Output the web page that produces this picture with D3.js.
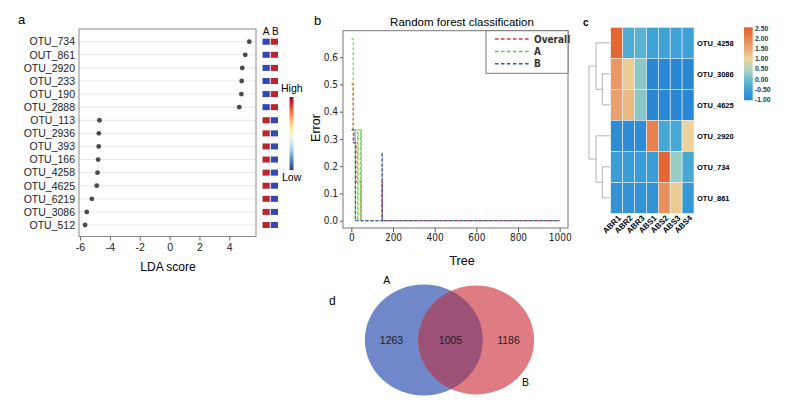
<!DOCTYPE html>
<html>
<head>
<meta charset="utf-8">
<script src="https://cdn.jsdelivr.net/npm/d3@7"></script>
<style>
body { margin: 0; background: #fff; }
text { font-family: "Liberation Sans", Arial, sans-serif; }
.cond { font-family: "DejaVu Sans Condensed", "Liberation Sans Narrow", sans-serif; }
</style>
</head>
<body>
<div id="container"></div>
<script>
const width = 810;
const height = 403;

//------------------DATA------------------//
// panel a : LDA
const otuLabels = ["OTU_734", "OUT_861", "OTU_2920", "OTU_233", "OTU_190", "OTU_2888", "OTU_113",
  "OTU_2936", "OTU_393", "OTU_166", "OTU_4258", "OTU_4625", "OTU_6219", "OTU_3086", "OTU_512"];
const ldaScores = [5.34, 5.07, 4.87, 4.83, 4.81, 4.67, -4.70, -4.74, -4.75, -4.79, -4.83, -4.88, -5.21, -5.55, -5.66];
const highGroup = ["B", "B", "B", "B", "B", "B", "A", "A", "A", "A", "A", "A", "A", "A", "A"];
const ldaTicks = [-6, -4, -2, 0, 2, 4];
const groups = ["A", "B"];

// panel b : random forest OOB error (change points, tree -> error)
const rfSeries = ["Overall", "A", "B"];
const rfOverall = [[1, 0.5], [9, 0.286], [16, 0.286], [22, 0.143], [47, 0], [147, 0.143], [149, 0], [1000, 0]];
const rfA = [[1, 0.667], [9, 0.333], [18, 0], [20, 0.333], [30, 0], [33, 0.333], [44, 0], [46, 0.333], [48, 0], [1000, 0]];
const rfB = [[1, 0.333], [7, 0.333], [12, 0.286], [20, 0], [147, 0.25], [149, 0], [1000, 0]];
const treeTicks = [0, 200, 400, 600, 800, 1000];
const errorTicks = [0, 0.1, 0.2, 0.3, 0.4, 0.5, 0.6];

// panel c : heatmap
const heatCols = ["ABR1", "ABR2", "ABR3", "ABS1", "ABS2", "ABS3", "ABS4"];
const heatRows = ["OTU_4258", "OTU_3086", "OTU_4625", "OTU_2920", "OTU_734", "OTU_861"];
const heatValues = [
  [2.4, -0.3, -0.2, -0.5, -0.5, -0.5, -0.5],
  [1.7, 1.1, 0.2, -1.0, -1.0, -1.0, -1.0],
  [1.6, 1.3, 0.2, -1.0, -1.0, -1.0, -1.0],
  [-0.9, -0.9, -0.9, 2.0, -0.4, -0.4, 1.0],
  [-0.6, -0.6, -0.6, -0.6, 2.4, 0.3, -0.4],
  [-0.8, -0.8, -0.8, -0.8, 1.8, 1.1, -0.7]
];
const heatTicks = [2.5, 2.0, 1.5, 1.0, 0.5, 0.0, -0.5, -1.0];
const dendro = {h: 3, children: [
  {h: 2, children: [{name: "OTU_4258"}, {h: 1.1, children: [{name: "OTU_3086"}, {name: "OTU_4625"}]}]},
  {h: 2, children: [{name: "OTU_2920"}, {h: 1.1, children: [{name: "OTU_734"}, {name: "OTU_861"}]}]}
]};

// panel d : venn
const vennNames = ["A", "B"];
const vennOnlyA = 1263;
const vennBoth = 1005;
const vennOnlyB = 1186;

//------------------SVG------------------//
const svg = d3.select("#container").append("svg")
  .attr("width", width).attr("height", height);
const hyphen = d => String(d);

function panelLetter(x, y, t, size, weight) {
  svg.append("text").attr("x", x).attr("y", y).text(t)
    .style("font-size", size).style("font-weight", weight || "normal");
}

//------------------PANEL A------------------//
panelLetter(18, 24, "a", 13);
const xA = d3.scaleLinear().domain([-6.07, 5.79]).range([79, 256]);
const yA = d3.scalePoint().domain(otuLabels).range([41.7, 225]);

const gA = svg.append("g");
gA.selectAll(".grid").data(otuLabels).enter().append("line")
  .attr("x1", 79).attr("x2", 256)
  .attr("y1", d => yA(d)).attr("y2", d => yA(d))
  .style("stroke", "#e2e2e2").style("stroke-width", 0.8);
gA.append("rect").attr("x", 79).attr("y", 29).attr("width", 177).attr("height", 207.5)
  .style("fill", "none").style("stroke", "#8a8a8a").style("stroke-width", 1);
gA.selectAll(".dot").data(otuLabels).enter().append("circle")
  .attr("cx", (d, i) => xA(ldaScores[i])).attr("cy", d => yA(d)).attr("r", 2.4)
  .style("fill", "#4a4a4a");
gA.selectAll(".lab").data(otuLabels).enter().append("text")
  .attr("x", 75).attr("y", d => yA(d)).attr("dy", "0.36em")
  .attr("text-anchor", "end").style("font-size", "10.5px").style("fill", "#222").text(d => d);

const axA = gA.append("g").attr("transform", "translate(0,236.5)")
  .call(d3.axisBottom(xA).tickValues(ldaTicks).tickFormat(hyphen).tickSize(4).tickPadding(3));
axA.select(".domain").remove();
axA.selectAll("line").style("stroke", "#666");
axA.selectAll("text").style("font-size", "10.5px").style("fill", "#222");
gA.append("text").attr("x", 168).attr("y", 271).attr("text-anchor", "middle")
  .style("font-size", "12px").text("LDA score");

// group squares
const xSq = d3.scaleBand().domain(groups).range([262.5, 278]).paddingInner(0.12);
groups.forEach(function(g) {
  gA.append("text").attr("x", xSq(g) + xSq.bandwidth() / 2 + (g === "B" ? 1 : 0)).attr("y", 35)
    .attr("text-anchor", "middle").style("font-size", "10px").text(g);
  gA.selectAll(".sq" + g).data(otuLabels).enter().append("rect")
    .attr("x", xSq(g)).attr("y", d => yA(d) - 3).attr("width", xSq.bandwidth()).attr("height", 6)
    .style("fill", (d, i) => highGroup[i] === g ? "#b8262e" : "#3348b0");
});

// High / Low bar
const defs = svg.append("defs");
const gradA = defs.append("linearGradient").attr("id", "gradA")
  .attr("x1", 0).attr("x2", 0).attr("y1", 0).attr("y2", 1);
d3.range(0, 1.01, 0.1).forEach(t => gradA.append("stop")
  .attr("offset", t).attr("stop-color", d3.interpolateRdYlBu(t)));
gA.append("rect").attr("x", 289.5).attr("y", 97).attr("width", 4).attr("height", 73)
  .style("fill", "url(#gradA)");
gA.append("text").attr("x", 281).attr("y", 92).style("font-size", "10.5px").text("High");
gA.append("text").attr("x", 282).attr("y", 181).style("font-size", "10.5px").text("Low");

//------------------PANEL B------------------//
panelLetter(314, 25, "b", 13);
const xB = d3.scaleLinear().domain([-40, 1040]).range([343, 568]);
const yB = d3.scaleLinear().domain([-0.0268, 0.6968]).range([228, 30.7]);
const colorB = d3.scaleOrdinal().domain(rfSeries).range(["#e8322c", "#6cc24a", "#3a4db8"]);
const gB = svg.append("g");

svg.append("text").attr("x", 462).attr("y", 26).attr("text-anchor", "middle")
  .style("font-size", "11.5px").text("Random forest classification");

const axBx = gB.append("g").attr("transform", "translate(0,228)")
  .call(d3.axisBottom(xB).tickValues(treeTicks).tickFormat(d3.format("d")).tickSize(4).tickPadding(2));
const axBy = gB.append("g").attr("transform", "translate(343,0)")
  .call(d3.axisLeft(yB).tickValues(errorTicks).tickFormat(d3.format(".1f")).tickSize(3).tickPadding(2));
[axBx, axBy].forEach(function(a) {
  a.select(".domain").remove();
  a.selectAll("line").style("stroke", "#555");
  a.selectAll("text").attr("class", "cond").style("font-size", "10px").style("fill", "#222");
});
gB.append("text").attr("x", 462).attr("y", 265).attr("text-anchor", "middle")
  .style("font-size", "12.5px").text("Tree");
gB.append("text").attr("transform", "translate(320,128) rotate(-90)").attr("text-anchor", "middle")
  .style("font-size", "12.5px").text("Error");

const lineB = d3.line().curve(d3.curveStepAfter)
  .x(d => xB(d[0])).y(d => yB(d[1]));
const rfData = [rfOverall, rfA, rfB];
gB.selectAll(".rf").data(rfData).enter().append("path")
  .attr("d", d => lineB(d))
  .style("fill", "none")
  .style("stroke", (d, i) => colorB(rfSeries[i]))
  .style("stroke-width", 1.2)
  .style("stroke-dasharray", "3,2")
  .style("opacity", 0.85);

gB.append("rect").attr("x", 343).attr("y", 30.7).attr("width", 225).attr("height", 197.3)
  .style("fill", "none").style("stroke", "#777").style("stroke-width", 1);

// legend
gB.append("rect").attr("x", 486).attr("y", 30.7).attr("width", 82).attr("height", 42.6)
  .style("fill", "#fff").style("stroke", "#777").style("stroke-width", 1);
rfSeries.forEach(function(s, i) {
  const y = 39 + i * 12.4;
  gB.append("line").attr("x1", 495).attr("x2", 530).attr("y1", y).attr("y2", y)
    .style("stroke", colorB(s)).style("stroke-width", 1.5).style("stroke-dasharray", "3.5,2.5");
  gB.append("text").attr("x", 534).attr("y", y).attr("dy", "0.36em").attr("class", "cond")
    .style("font-size", "10px").style("font-weight", "bold").style("fill", "#333").text(s);
});

//------------------PANEL C------------------//
panelLetter(583, 26, "c", 10, "bold");
const xC = d3.scaleBand().domain(heatCols).range([610.7, 694]);
const yC = d3.scaleBand().domain(heatRows).range([27.3, 213.3]);
const heatDomain = [-1, -0.5, 0, 0.5, 1, 1.5, 2, 2.5];
const colorC = d3.scaleLinear().domain(heatDomain)
  .range(["#2a87d3", "#3ea2d6", "#6cbecd", "#b4d6bb", "#ecd39c", "#eaa774", "#e78250", "#e3602c"]);
const gC = svg.append("g");
heatRows.forEach(function(r, i) {
  gC.selectAll(".c" + i).data(heatCols).enter().append("rect")
    .attr("x", d => xC(d)).attr("y", yC(r))
    .attr("width", xC.bandwidth()).attr("height", yC.bandwidth())
    .style("fill", (d, j) => colorC(heatValues[i][j]))
    .style("stroke", "#f4f4f4").style("stroke-width", 0.6);
});
gC.selectAll(".rl").data(heatRows).enter().append("text")
  .attr("x", 697).attr("y", d => yC(d) + yC.bandwidth() / 2).attr("dy", "0.36em")
  .style("font-size", "7.5px").style("font-weight", "bold").text(d => d);
gC.selectAll(".cl").data(heatCols).enter().append("text")
  .attr("transform", d => "translate(" + (xC(d) + xC.bandwidth() / 2 + 3) + ",217) rotate(-45)")
  .attr("text-anchor", "end").attr("dy", "0.3em")
  .style("font-size", "8px").style("font-weight", "bold").text(d => d);

// dendrogram
const root = d3.hierarchy(dendro);
const hx = d3.scaleLinear().domain([0, 3]).range([610, 589]);
root.eachAfter(function(n) {
  if (!n.children) { n.py = yC(n.data.name) + yC.bandwidth() / 2; n.px = hx(0); }
  else { n.py = d3.mean(n.children, c => c.py); n.px = hx(n.data.h); }
});
root.each(function(n) {
  if (!n.children) return;
  gC.append("line").attr("x1", n.px).attr("x2", n.px)
    .attr("y1", n.children[0].py).attr("y2", n.children[n.children.length - 1].py)
    .style("stroke", "#aaa").style("stroke-width", 0.9);
  n.children.forEach(c => gC.append("line").attr("x1", n.px).attr("x2", c.px)
    .attr("y1", c.py).attr("y2", c.py).style("stroke", "#aaa").style("stroke-width", 0.9));
});

// colour key
const gradC = defs.append("linearGradient").attr("id", "gradC")
  .attr("x1", 0).attr("x2", 0).attr("y1", 1).attr("y2", 0);
heatDomain.forEach((v, i) => gradC.append("stop")
  .attr("offset", i / (heatDomain.length - 1)).attr("stop-color", colorC(v)));
const keyY = d3.scaleLinear().domain([-1, 2.5]).range([99.3, 28.7]);
gC.append("rect").attr("x", 744).attr("y", 27.3).attr("width", 8.7).attr("height", 73)
  .style("fill", "url(#gradC)");
gC.selectAll(".kt").data(heatTicks).enter().append("text")
  .attr("x", 755).attr("y", d => keyY(d)).attr("dy", "0.35em")
  .style("font-size", "6.8px").style("font-weight", "bold").style("fill", "#333")
  .text(d => d3.format(".2f")(d).replace("−", "-"));

//------------------PANEL D------------------//
panelLetter(329, 305, "d", 12);
const sizeA = vennOnlyA + vennBoth;
const sizeB = vennOnlyB + vennBoth;
const rScale = d3.scaleSqrt().domain([0, sizeA]).range([0, 59]);
const rA = rScale(sizeA), rB = rScale(sizeB);
function lens(r1, r2, d) {
  const a = r1 * r1 * Math.acos((d * d + r1 * r1 - r2 * r2) / (2 * d * r1));
  const b = r2 * r2 * Math.acos((d * d + r2 * r2 - r1 * r1) / (2 * d * r2));
  const c = 0.5 * Math.sqrt((-d + r1 + r2) * (d + r1 - r2) * (d - r1 + r2) * (d + r1 + r2));
  return a + b - c;
}
const target = Math.PI * rA * rA * vennBoth / sizeA;
let lo = Math.abs(rA - rB) + 0.01, hi = rA + rB - 0.01;
for (let k = 0; k < 50; k++) {
  const mid = (lo + hi) / 2;
  if (lens(rA, rB, mid) > target) lo = mid; else hi = mid;
}
const dist = (lo + hi) / 2;
const cx = 450, cy = 340, squash = 0.94;
const cxA = cx - dist / 2, cxB = cx + dist / 2;
const gD = svg.append("g");
defs.append("clipPath").attr("id", "clipA").append("ellipse")
  .attr("cx", cxA).attr("cy", cy).attr("rx", rA).attr("ry", rA * squash);
gD.append("ellipse").attr("cx", cxA).attr("cy", cy).attr("rx", rA).attr("ry", rA * squash)
  .style("fill", "#7087ca");
gD.append("ellipse").attr("cx", cxB).attr("cy", cy).attr("rx", rB).attr("ry", rB * squash)
  .style("fill", "#df7c83");
gD.append("ellipse").attr("cx", cxB).attr("cy", cy).attr("rx", rB).attr("ry", rB * squash)
  .attr("clip-path", "url(#clipA)").style("fill", "#9c5276");
const vennCounts = [vennOnlyA, vennBoth, vennOnlyB];
const countX = [(cxA - rA + cxB - rB) / 2, (cxB - rB + cxA + rA) / 2, (cxA + rA + cxB + rB) / 2];
gD.selectAll(".vn").data(vennCounts).enter().append("text")
  .attr("x", (d, i) => countX[i]).attr("y", cy).attr("dy", "0.36em").attr("text-anchor", "middle")
  .style("font-size", "10.5px").style("fill", "#222").text(d => d);
gD.append("text").attr("x", cxA - rA * 0.63).attr("y", cy - rA * squash - 1).attr("text-anchor", "middle")
  .style("font-size", "10.5px").text(vennNames[0]);
gD.append("text").attr("x", cxB + rB * 0.85).attr("y", cy + rB * squash * 0.85).attr("text-anchor", "middle")
  .style("font-size", "10.5px").text(vennNames[1]);
</script>
</body>
</html>
